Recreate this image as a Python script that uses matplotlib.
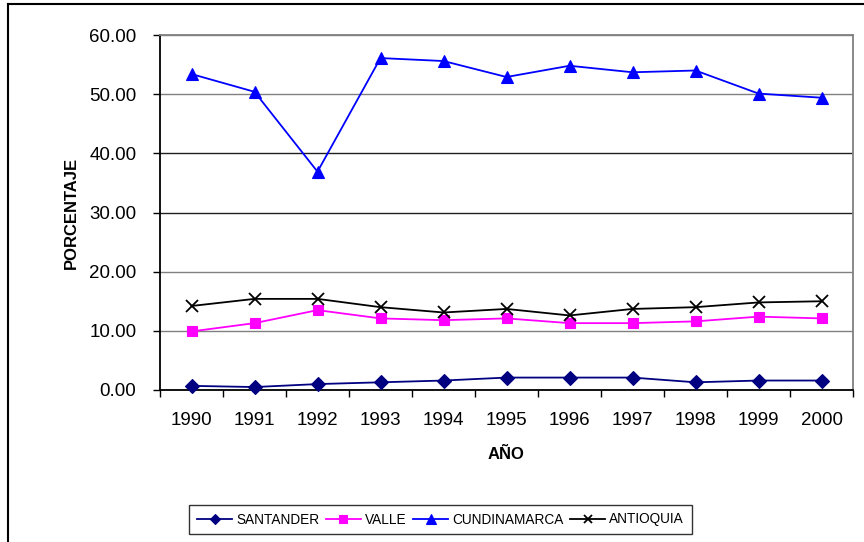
import matplotlib.pyplot as plt
from matplotlib.lines import Line2D
from matplotlib.ticker import FormatStrFormatter

plt.rcParams['font.family'] = ['Liberation Sans', 'DejaVu Sans']

# === Datos ===
anios = ["1990", "1991", "1992", "1993", "1994", "1995", "1996", "1997", "1998", "1999", "2000"]
santander = [0.7, 0.5, 1.0, 1.3, 1.6, 2.1, 2.1, 2.1, 1.3, 1.6, 1.6]
valle = [9.9, 11.3, 13.5, 12.1, 11.8, 12.1, 11.3, 11.3, 11.6, 12.4, 12.1]
cundinamarca = [53.4, 50.4, 36.9, 56.1, 55.6, 52.9, 54.8, 53.7, 54.0, 50.1, 49.4]
antioquia = [14.2, 15.4, 15.4, 14.0, 13.1, 13.7, 12.6, 13.7, 14.0, 14.8, 15.0]

series = [
    ("SANTANDER", santander, "#000080", "D", 7),
    ("VALLE", valle, "#FF00FF", "s", 7),
    ("CUNDINAMARCA", cundinamarca, "#0000FF", "^", 8.5),
    ("ANTIOQUIA", antioquia, "black", "x", 8),
]

fig = plt.figure(figsize=(8.64, 5.42), dpi=100)
ax = fig.add_axes([160 / 864, 1 - 390 / 542, (853 - 160) / 864, (390 - 35) / 542])

x = list(range(len(anios)))
for nombre, vals, color, marker, ms in series:
    ax.plot(x, vals, color=color, marker=marker, markersize=ms, linewidth=1.3,
            markeredgewidth=1.3 if marker == "x" else 0.8, label=nombre, clip_on=False, zorder=3)

ax.set_xlim(-0.5, len(anios) - 0.5)
ax.set_ylim(0, 60)
ax.set_yticks(range(0, 61, 10))
ax.yaxis.set_major_formatter(FormatStrFormatter("%.2f"))

# ticks entre categorias
ax.set_xticks([i - 0.5 for i in range(len(anios) + 1)])
ax.set_xticklabels([])
ax.set_xticks(x, minor=True)
ax.set_xticklabels(anios, minor=True)
ax.tick_params(axis="x", which="major", direction="out", length=5, width=1, color="black")
ax.tick_params(axis="x", which="minor", length=0, pad=16, labelsize=13.5)
ax.tick_params(axis="y", direction="out", length=5, width=1, pad=12, labelsize=13.5)

# === Rejilla ===
ax.grid(axis="y", color="#808080", linewidth=1, zorder=0)
for y, gl in zip(range(0, 61, 10), ax.get_ygridlines()):
    if y in (30, 40):
        gl.set_color("#202020")
ax.set_axisbelow(True)

for lado in ("top", "right"):
    ax.spines[lado].set_color("#808080")
    ax.spines[lado].set_linewidth(1.3)
ax.spines["left"].set_color("black")
ax.spines["bottom"].set_color("black")
ax.spines["left"].set_linewidth(1.3)
ax.spines["bottom"].set_linewidth(1.3)

ax.set_xlabel("AÑO", fontsize=12, fontweight="bold")
ax.xaxis.set_label_coords(0.5, -(447 - 390) / 355)
ax.set_ylabel("PORCENTAJE", fontsize=12, fontweight="bold")
ax.yaxis.set_label_coords((79 - 160) / 693, 0.5)

# === Leyenda ===
leg = fig.legend(loc="center", bbox_to_anchor=(440.5 / 864, 1 - 519.5 / 542), ncol=4,
                 frameon=True, fancybox=False, edgecolor="black", fontsize=9.8,
                 handlelength=2.6, handletextpad=0.3, columnspacing=0.45,
                 borderpad=0.55, markerscale=0.8)
leg.get_frame().set_linewidth(1)

# === Marco exterior ===
fig.add_artist(Line2D([8 / 864, 8 / 864], [0, 1 - 4 / 542], color="black", linewidth=1.5,
                      transform=fig.transFigure))
fig.add_artist(Line2D([8 / 864, 1], [1 - 4 / 542, 1 - 4 / 542], color="black", linewidth=1.5,
                      transform=fig.transFigure))

fig.savefig("out.png", dpi=100)
